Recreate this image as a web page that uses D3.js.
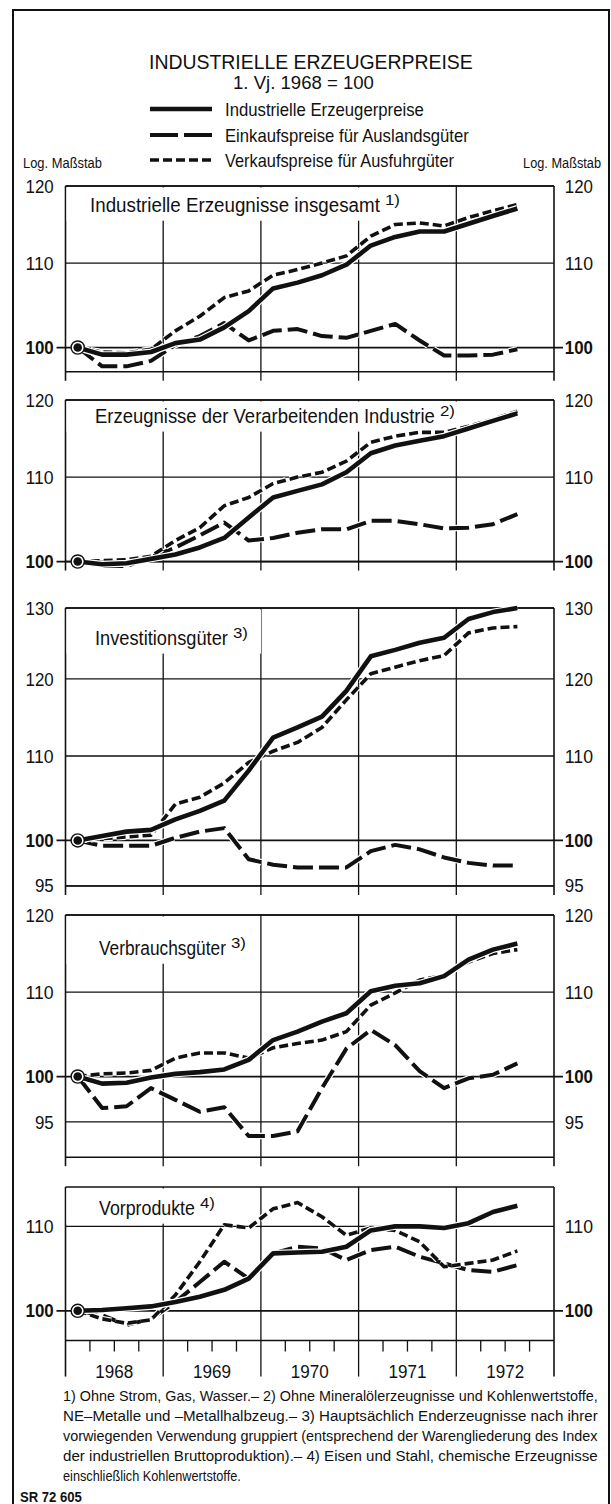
<!DOCTYPE html>
<html>
<head>
<meta charset="utf-8">
<script src="https://cdn.jsdelivr.net/npm/d3@7/dist/d3.min.js"></script>
<style>
  body { margin: 0; background: #fff; }
  svg text { font-family: "Liberation Sans", Arial, sans-serif; fill: #111; }
</style>
</head>
<body>
<svg id="chart" width="611" height="1504"></svg>
<script>
// quarters on the time axis (data run from 1968 I to 1972 III)
var quarters = ['1968 I', '1968 II', '1968 III', '1968 IV',
                '1969 I', '1969 II', '1969 III', '1969 IV',
                '1970 I', '1970 II', '1970 III', '1970 IV',
                '1971 I', '1971 II', '1971 III', '1971 IV',
                '1972 I', '1972 II', '1972 III', '1972 IV'];
var years = ['1968', '1969', '1970', '1971', '1972'];

// Industrielle Erzeugnisse insgesamt
var gesamtErzeuger = [100, 99.2, 99.2, 99.5, 100.5, 100.9, 102.3, 104.2, 106.9, 107.6, 108.5, 109.8, 112.2, 113.3, 114.0, 114.0, 115.0, 116.0, 117.0];
var gesamtEinkauf  = [100, 97.9, 97.9, 98.5, 100.3, 101.3, 102.8, 100.8, 101.9, 102.1, 101.3, 101.1, 101.9, 102.7, 100.8, 99.1, 99.1, 99.2, 99.8];
var gesamtVerkauf  = [100, 99.5, 99.4, 99.8, 101.9, 103.6, 105.8, 106.6, 108.5, 109.2, 110.0, 110.9, 113.4, 114.9, 115.1, 114.7, 115.8, 116.7, 117.5];

// Erzeugnisse der Verarbeitenden Industrie
var verarbErzeuger = [100, 99.7, 99.8, 100.3, 100.8, 101.6, 102.7, 105.1, 107.5, 108.3, 109.1, 110.6, 113.0, 114.0, 114.6, 115.2, 116.2, 117.2, 118.2];
var verarbEinkauf  = [100, 99.5, 99.5, 100.5, 101.6, 103.0, 104.5, 102.4, 102.7, 103.3, 103.7, 103.7, 104.7, 104.7, 104.3, 103.8, 103.9, 104.3, 105.5];
var verarbVerkauf  = [100, 100.1, 100.2, 100.6, 102.4, 103.9, 106.5, 107.5, 109.2, 110.0, 110.6, 112.0, 114.4, 115.2, 115.7, 115.7, 116.5, 117.4, 118.5];

// Investitionsgueter
var investErzeuger = [100, 100.5, 101.0, 101.2, 102.4, 103.4, 104.6, 108.2, 112.3, 113.6, 115.0, 118.4, 123.1, 124.0, 125.0, 125.7, 128.4, 129.4, 130.0];
var investEinkauf  = [100, 99.4, 99.4, 99.4, 100.3, 101.0, 101.4, 97.9, 97.3, 97.0, 97.0, 97.0, 98.8, 99.5, 99.0, 98.1, 97.5, 97.2, 97.2];
var investVerkauf  = [100, 100.2, 100.4, 100.6, 104.2, 105.0, 106.7, 109.2, 110.6, 111.7, 113.6, 117.2, 120.7, 121.6, 122.5, 123.2, 126.4, 127.1, 127.3];

// Verbrauchsgueter
var verbrErzeuger = [100, 99.2, 99.3, 99.9, 100.3, 100.5, 100.8, 101.9, 104.2, 105.2, 106.4, 107.4, 110.1, 110.8, 111.1, 112.0, 114.1, 115.4, 116.2];
var verbrEinkauf  = [100, 96.5, 96.7, 98.7, 97.4, 96.1, 96.6, 93.5, 93.5, 94.0, 98.7, 103.2, 105.4, 103.6, 100.6, 98.7, 99.8, 100.2, 101.5];
var verbrVerkauf  = [100, 100.3, 100.4, 100.7, 102.1, 102.7, 102.7, 102.1, 103.3, 103.8, 104.2, 105.2, 108.4, 109.9, 111.5, 112.1, 113.8, 114.9, 115.4];

// Vorprodukte
var vorErzeuger = [100, 100.1, 100.3, 100.5, 101.0, 101.6, 102.4, 103.7, 106.7, 106.8, 106.9, 107.5, 109.5, 110.0, 110.0, 109.8, 110.4, 111.8, 112.6];
var vorEinkauf  = [100, 99.5, 98.4, 99.1, 101.0, 103.3, 105.7, 103.7, 106.7, 107.5, 107.3, 105.9, 107.1, 107.5, 106.3, 105.5, 104.7, 104.5, 105.3];
var vorVerkauf  = [100, 99.1, 98.6, 99.0, 101.8, 105.7, 110.2, 109.8, 112.2, 113.0, 111.2, 108.9, 109.8, 109.5, 108.1, 105.1, 105.5, 105.9, 107.0];

var seriesNames = ['Industrielle Erzeugerpreise', 'Einkaufspreise für Auslandsgüter', 'Verkaufspreise für Ausfuhrgüter'];

var footnotes = [
    '1) Ohne Strom, Gas, Wasser.– 2) Ohne Mineralölerzeugnisse und Kohlenwertstoffe,',
    'NE–Metalle und –Metallhalbzeug.– 3) Hauptsächlich Enderzeugnisse nach ihrer',
    'vorwiegenden Verwendung gruppiert (entsprechend der Warengliederung des Index',
    'der industriellen Bruttoproduktion).– 4) Eisen und Stahl, chemische Erzeugnisse',
    'einschließlich Kohlenwertstoffe.'
];

// panel layout (tw = width of title text)
var panels = [
    { title: 'Industrielle Erzeugnisse insgesamt', note: '1)', top: 186, domain: [97.3, 120], ticks: [100, 110, 120],
      tx: 90, ty: 212, ts: 21, tw: 290, series: [gesamtErzeuger, gesamtEinkauf, gesamtVerkauf] },
    { title: 'Erzeugnisse der Verarbeitenden Industrie', note: '2)', top: 400, domain: [100, 120], ticks: [100, 110, 120],
      tx: 95, ty: 423, ts: 19.5, tw: 340, series: [verarbErzeuger, verarbEinkauf, verarbVerkauf] },
    { title: 'Investitionsgüter', note: '3)', top: 608, domain: [95, 130], ticks: [95, 100, 110, 120, 130],
      tx: 95, ty: 645, ts: 19.5, tw: 133, series: [investErzeuger, investEinkauf, investVerkauf] },
    { title: 'Verbrauchsgüter', note: '3)', top: 915, domain: [91.3, 120], ticks: [95, 100, 110, 120],
      tx: 99, ty: 955, ts: 19.5, tw: 127, series: [verbrErzeuger, verbrEinkauf, verbrVerkauf] },
    { title: 'Vorprodukte', note: '4)', top: 1187, domain: [96.7, 115], ticks: [100, 110],
      tx: 99, ty: 1215, ts: 19.5, tw: 96, series: [vorErzeuger, vorEinkauf, vorVerkauf] }
];

// line styles: solid, long dash, short dash
var styles = [
    { width: 4.6, dash: null },
    { width: 4, dash: '20,6' },
    { width: 3.6, dash: '9,4' }
];

var pxPerDecade = 2040;   // same log spacing in every panel
var plotL = 65.5, plotR = 554;

var svg = d3.select('#chart');

// squeeze a text horizontally to the width it has in the print (narrow type face)
function narrowText(parent, x, y, str, size, width, anchor) {
    var t = parent.append('text')
        .attr('text-anchor', anchor || 'start')
        .style('font-size', size + 'px')
        .text(str);
    var w = t.node().getComputedTextLength();
    t.attr('transform', 'translate(' + x + ',' + y + ') scale(' + (width / w) + ',1)');
    return t;
}

var xScale = d3.scaleBand().domain(quarters).range([plotL, plotR]);
var yearScale = d3.scaleBand().domain(years).range([plotL, plotR]);
var qCenter = function(i) { return xScale(quarters[i]) + xScale.bandwidth() / 2; };

// outer frame
svg.append('path')
    .attr('d', 'M13,1504 V10 H609 V1504')
    .attr('fill', 'none').attr('stroke', '#111').attr('stroke-width', 2);

// heading
narrowText(svg, 149, 69, 'INDUSTRIELLE ERZEUGERPREISE', 21, 324);
narrowText(svg, 233, 89, '1. Vj. 1968 = 100', 19, 141);

// legend
var legendY = [109, 135, 160];
var legendW = [199, 244, 229];
seriesNames.forEach(function(name, k) {
    svg.append('line')
        .attr('x1', 150).attr('x2', 212).attr('y1', legendY[k]).attr('y2', legendY[k])
        .attr('stroke', '#111').attr('stroke-width', styles[k].width)
        .attr('stroke-dasharray', k === 1 ? '28,6' : styles[k].dash);
    narrowText(svg, 225, legendY[k] + 6.5, name, 18, legendW[k]);
});

narrowText(svg, 23, 168, 'Log. Maßstab', 15, 79);
narrowText(svg, 601, 168, 'Log. Maßstab', 15, 78, 'end');

panels.forEach(function(p, pi) {
    var bottom = p.top + pxPerDecade * Math.log10(p.domain[1] / p.domain[0]);
    var y = d3.scaleLog().domain(p.domain).range([bottom, p.top]);
    var g = svg.append('g');
    var last = pi === panels.length - 1;

    // horizontal grid lines
    g.selectAll('.hgrid').data(p.ticks).enter().append('line')
        .attr('x1', function(d) { return d === 100 ? plotL - 9 : plotL; })
        .attr('x2', function(d) { return d === 100 ? plotR + 9 : plotR; })
        .attr('y1', function(d) { return y(d); }).attr('y2', function(d) { return y(d); })
        .attr('stroke', '#111').attr('stroke-width', function(d) { return d === 100 ? 1.8 : 1.3; });

    // vertical year lines incl. frame sides
    var yearEdges = years.map(function(yr) { return yearScale(yr); }).concat([plotR]);
    g.selectAll('.vgrid').data(yearEdges).enter().append('line')
        .attr('x1', function(d) { return d; }).attr('x2', function(d) { return d; })
        .attr('y1', p.top).attr('y2', last ? bottom + 36 : bottom + 9)
        .attr('stroke', '#111')
        .attr('stroke-width', function(d, i) { return (i === 0 || i === 5) ? 1.6 : 1.3; });

    // top and bottom edges
    [p.top, bottom].forEach(function(yy) {
        g.append('line').attr('x1', plotL).attr('x2', plotR).attr('y1', yy).attr('y2', yy)
            .attr('stroke', '#111').attr('stroke-width', 1.5);
    });

    // quarter ticks and year names under the last panel
    if (last) {
        var qTicks = quarters.filter(function(q) { return q.slice(-2) !== ' I'; });
        g.selectAll('.qtick').data(qTicks).enter().append('line')
            .attr('x1', function(d) { return xScale(d); }).attr('x2', function(d) { return xScale(d); })
            .attr('y1', bottom).attr('y2', bottom + 11)
            .attr('stroke', '#111').attr('stroke-width', 1.3);
        years.forEach(function(yr) {
            narrowText(g, yearScale(yr) + yearScale.bandwidth() / 2, bottom + 37, yr, 19, 38, 'middle');
        });
    }

    // panel title with white backing
    var mask = g.append('rect').attr('fill', '#fff');
    var t = narrowText(g, p.tx, p.ty, p.title, p.ts, p.tw);
    narrowText(g, p.tx + p.tw + 5, p.ty - 7, p.note, 14, 15);
    var bb = t.node().getBBox();
    mask.attr('x', plotL + 1).attr('y', p.top + 1.5)
        .attr('width', p.tx + p.tw + 32 - plotL)
        .attr('height', p.ty + bb.y + bb.height + 3 - p.top);

    // series lines (white casing keeps crossings readable)
    var line = d3.line()
        .x(function(d, i) { return qCenter(i); })
        .y(function(d) { return y(d); });
    [1, 2, 0].forEach(function(k) {
        g.append('path').datum(p.series[k]).attr('d', line)
            .attr('fill', 'none').attr('stroke', '#fff')
            .attr('stroke-width', styles[k].width + 2.4)
            .attr('stroke-dasharray', styles[k].dash);
        g.append('path').datum(p.series[k]).attr('d', line)
            .attr('fill', 'none').attr('stroke', '#111')
            .attr('stroke-width', styles[k].width)
            .attr('stroke-dasharray', styles[k].dash)
            .attr('stroke-linejoin', 'round');
    });

    // base point marker
    g.append('circle').attr('cx', qCenter(0)).attr('cy', y(100)).attr('r', 6.6)
        .attr('fill', '#fff').attr('stroke', '#111').attr('stroke-width', 1.4);
    g.append('circle').attr('cx', qCenter(0)).attr('cy', y(100)).attr('r', 4.3).attr('fill', '#111');

    // value labels both sides
    var styleAxis = function(a) {
        a.select('.domain').remove();
        a.selectAll('text').style('font-size', '19px')
            .style('font-weight', function(d) { return d === 100 ? 'bold' : 'normal'; })
            .attr('transform', function(d) {
                var w = this.getComputedTextLength();
                return 'scale(' + (String(d).length * 9.4 / w) + ',1)';
            });
    };
    g.append('g').attr('transform', 'translate(' + (plotL - 10) + ',0)')
        .call(d3.axisLeft(y).tickValues(p.ticks).tickSize(0).tickPadding(2).tickFormat(d3.format('d')))
        .call(styleAxis);
    g.append('g').attr('transform', 'translate(' + (plotR + 9) + ',0)')
        .call(d3.axisRight(y).tickValues(p.ticks).tickSize(0).tickPadding(2).tickFormat(d3.format('d')))
        .call(styleAxis);
});

// footnotes (justified block)
var fy = [1401, 1421, 1441, 1461, 1481];
footnotes.forEach(function(s, i) {
    narrowText(svg, 63, fy[i], s, 15, i < footnotes.length - 1 ? 535 : 178);
});
var sr = narrowText(svg, 20, 1502, 'SR 72 605', 14, 62);
sr.style('font-weight', 'bold');
</script>
</body>
</html>
